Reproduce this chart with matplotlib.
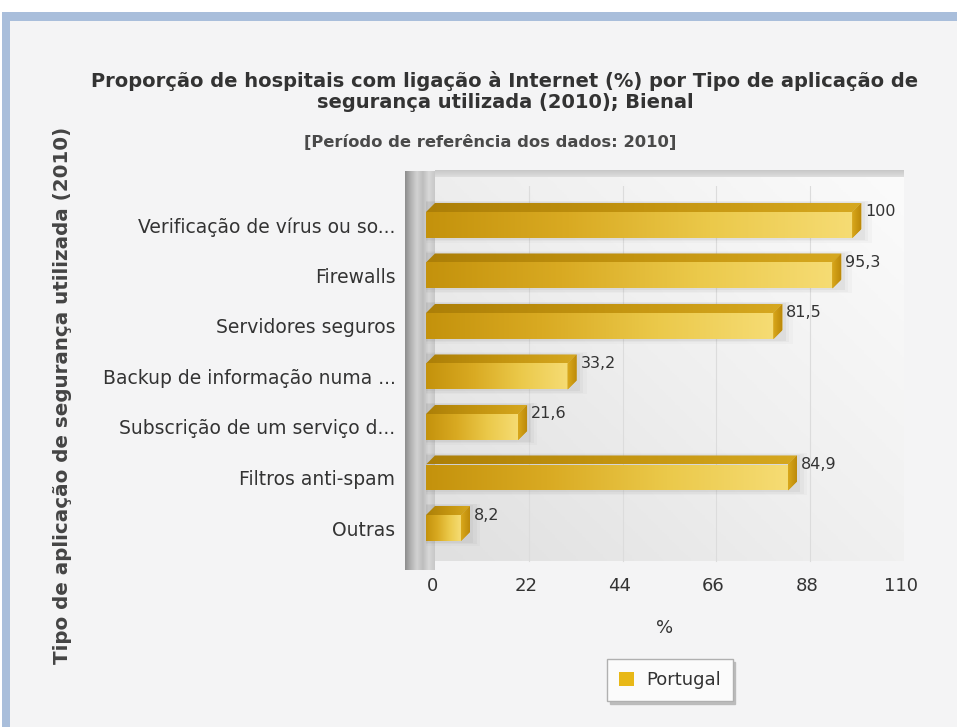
import numpy as np
import matplotlib
matplotlib.use("Agg")
import matplotlib.pyplot as plt
from matplotlib.patches import Rectangle, Polygon, Patch
from matplotlib.colors import LinearSegmentedColormap
import matplotlib.transforms as mtransforms

# ---- data -------------------------------------------------------------
categories = [
    "Verificação de vírus ou so...",
    "Firewalls",
    "Servidores seguros",
    "Backup de informação numa ...",
    "Subscrição de um serviço d...",
    "Filtros anti-spam",
    "Outras",
]
values = [100, 95.3, 81.5, 33.2, 21.6, 84.9, 8.2]
x_ticks = [0, 22, 44, 66, 88, 110]
series_name = "Portugal"

title = ("Proporção de hospitais com ligação à Internet (%) por Tipo de aplicação de\n"
         "segurança utilizada (2010); Bienal")
subtitle = "[Período de referência dos dados: 2010]"
y_title = "Tipo de aplicação de segurança utilizada (2010)"
x_title = "%"

# ---- layout (pixels, origin top-left) ---------------------------------
W, H = 957, 727
fig = plt.figure(figsize=(W / 100, H / 100), dpi=100)
fig.patch.set_facecolor("white")


def fbox(x0, y0, x1, y1):
    """Figure-fraction box from pixel corners."""
    return [x0 / W, 1 - y1 / H, (x1 - x0) / W, (y1 - y0) / H]


TEXT = "#333333"
FONT = "DejaVu Sans"
DEPTH = 9  # 3D depth in pixels

# page frame
frame = fig.add_axes([0, 0, 1, 1], zorder=-10)
frame.set_xlim(0, W)
frame.set_ylim(H, 0)
frame.axis("off")
frame.add_patch(Rectangle((2, 12), W - 2, H - 12, facecolor="#a9bedb", edgecolor="none"))
frame.add_patch(Rectangle((10, 21), W - 10, H - 21, facecolor="#f4f4f5", edgecolor="none"))

# plot area (front plane)
PX0, PX1, PY0, PY1 = 426, 895, 186, 570
ax = fig.add_axes(fbox(PX0, PY0, PX1, PY1), zorder=2)
ax.patch.set_alpha(0)

# back wall with soft gradient
wall = fig.add_axes(fbox(PX0 + DEPTH, PY0 - DEPTH, PX1 + DEPTH, PY1 - DEPTH), zorder=0)
gy, gx = np.mgrid[0:1:200j, 0:1:200j]
wall_val = 0.55 * gx + 0.45 * (1 - gy)
wall_cmap = LinearSegmentedColormap.from_list("wall", ["#e0e0e0", "#efefef", "#fbfbfb"])
wall.imshow(wall_val, cmap=wall_cmap, aspect="auto", extent=[0, 1, 0, 1], origin="upper")
wall.axis("off")

# top wall strip
topw = fig.add_axes(fbox(PX0 + DEPTH, PY0 - DEPTH - 7, PX1 + DEPTH, PY0 - DEPTH), zorder=0)
topw.imshow(np.linspace(0, 1, 50)[:, None], cmap=LinearSegmentedColormap.from_list(
    "tw", ["#c4c4c4", "#dedede"]), aspect="auto", extent=[0, 1, 0, 1])
topw.axis("off")

# left wall
leftw = fig.add_axes(fbox(PX0 - 21, PY0 - DEPTH - 6, PX0 + DEPTH, PY1), zorder=1)
lw_grad = np.linspace(0, 1, 60)[None, :]
leftw.imshow(lw_grad, cmap=LinearSegmentedColormap.from_list(
    "lw", ["#8e8e8e", "#b4b4b4", "#d2d2d2", "#bdbdbd", "#d8d8d8", "#c8c8c8"]),
    aspect="auto", extent=[0, 1, 0, 1])
leftw.axis("off")

n = len(categories)
BAR_PX = 26.0
STEP_PX = 50.5
first_center = 225.0
y_top = (PY0 - first_center) / STEP_PX
y_bot = (PY1 - first_center) / STEP_PX
ax.set_xlim(0, 110)
ax.set_ylim(y_bot, y_top)

h = BAR_PX / STEP_PX
dxd = DEPTH * 110 / (PX1 - PX0)
dyd = DEPTH / STEP_PX

# grid lines on the back wall
back = mtransforms.ScaledTranslation(DEPTH / 100, DEPTH / 100, fig.dpi_scale_trans)
for t in x_ticks[1:-1]:
    ax.plot([t, t], [0, 1], color="#dcdcdc", lw=0.8, zorder=0.5,
            transform=ax.get_xaxis_transform() + back)

front_cmap = LinearSegmentedColormap.from_list("front", ["#c4920c", "#d9aa22", "#ebc94a", "#f6dc74"])
top_cmap = LinearSegmentedColormap.from_list("top", ["#ac7f08", "#c39410", "#d6a820"])
side_cmap = LinearSegmentedColormap.from_list("side", ["#d9a81c", "#bd8a09"])
grad = np.linspace(0, 1, 256)[None, :]


def gradient_fill(patch, cmap, extent, z):
    ax.add_patch(patch)
    im = ax.imshow(grad, cmap=cmap, extent=extent, aspect="auto", zorder=z,
                   interpolation="bilinear")
    im.set_clip_path(patch)


for i, v in enumerate(values):
    y0 = i - h / 2
    y1 = i + h / 2
    # soft shadow
    for k, a in enumerate([0.06, 0.045, 0.03]):
        grow = (k + 1) * 0.8
        ax.add_patch(Rectangle((0, y0 - dyd - grow * 0.02), v + dxd + grow, h + dyd + grow * 0.06,
                               facecolor="#555555", edgecolor="none", alpha=a, zorder=1))
    front = Rectangle((0, y0), v, h, facecolor="none", edgecolor="none", zorder=3)
    gradient_fill(front, front_cmap, [0, v, y1, y0], 3)
    top = Polygon([(0, y0), (v, y0), (v + dxd, y0 - dyd), (dxd, y0 - dyd)],
                  closed=True, facecolor="none", edgecolor="none", zorder=3)
    gradient_fill(top, top_cmap, [0, v + dxd, y0, y0 - dyd], 3)
    side = Polygon([(v, y0), (v + dxd, y0 - dyd), (v + dxd, y1 - dyd), (v, y1)],
                   closed=True, facecolor="#cf9d14", edgecolor="none", zorder=3)
    gradient_fill(side, side_cmap, [v, v + dxd, y1, y0 - dyd], 3)
    label = f"{v:g}".replace(".", ",")
    ax.text(v + dxd + 0.9, y0, label, ha="left", va="center", fontsize=11.5,
            color=TEXT, family=FONT, zorder=5)

ax.set_xlim(0, 110)
ax.set_ylim(y_bot, y_top)

ax.set_yticks(range(n))
ax.set_yticklabels(categories, fontsize=13.5, color=TEXT, family=FONT)
ax.tick_params(axis="y", length=0, pad=22)
ax.set_xticks(x_ticks)
ax.set_xticklabels([str(t) for t in x_ticks], fontsize=13, color=TEXT, family=FONT)
ax.tick_params(axis="x", length=0, pad=5)
shift = mtransforms.ScaledTranslation(6 / 100, 0, fig.dpi_scale_trans)
for lab in ax.get_xticklabels():
    lab.set_transform(lab.get_transform() + shift)
for s in ax.spines.values():
    s.set_visible(False)

# titles
fig.text(505 / W, 1 - 91.5 / H, title, ha="center", va="center", fontsize=14,
         fontweight="bold", color=TEXT, family=FONT, linespacing=1.15)
fig.text(490 / W, 1 - 142 / H, subtitle, ha="center", va="center", fontsize=11.8,
         fontweight="bold", color="#4a4a4a", family=FONT)
fig.text(63 / W, 1 - 395 / H, y_title, ha="center", va="center", rotation=90,
         fontsize=14.3, fontweight="bold", color="#444444", family=FONT)
fig.text(665 / W, 1 - 628 / H, x_title, ha="center", va="center", fontsize=13,
         color=TEXT, family=FONT)

# legend
leg = fig.legend(handles=[Patch(facecolor="#e8b817", edgecolor="none", label=series_name)],
                 loc="center", bbox_to_anchor=(670 / W, 1 - 680 / H), frameon=True,
                 fancybox=False, shadow={"color": "#b8b8b8", "alpha": 0.9},
                 handlelength=0.8, handleheight=0.8,
                 handletextpad=0.7, borderpad=0.65,
                 prop={"family": FONT, "size": 13})
leg.get_frame().set_edgecolor("#b0b0b0")
leg.get_frame().set_facecolor("#fbfbfb")
for t in leg.get_texts():
    t.set_color(TEXT)

fig.savefig("out.png", dpi=100)
